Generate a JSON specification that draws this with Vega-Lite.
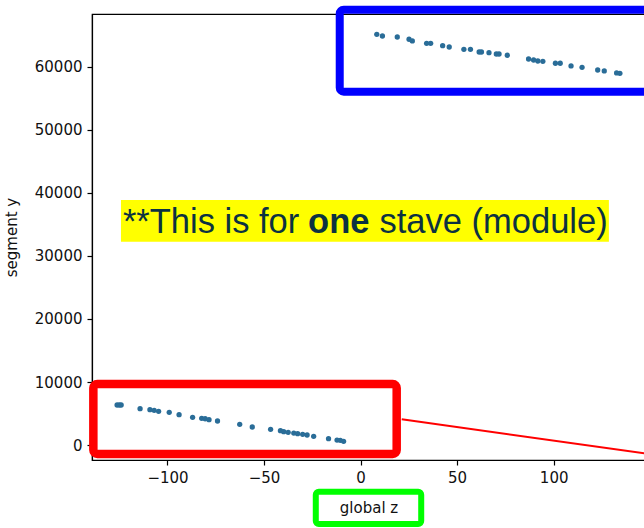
{
  "$schema": "https://vega.github.io/schema/vega-lite/v6.json",
  "width": 553,
  "height": 446,
  "autosize": {"type": "none"},
  "padding": {"left": 92, "top": 14, "right": 0, "bottom": 68},
  "background": "white",
  "config": {
    "view": {"stroke": "black", "strokeWidth": 1.2},
    "axis": {
      "grid": false,
      "labelFont": "DejaVu Sans",
      "labelFontSize": 15,
      "labelColor": "#111111",
      "titleFont": "DejaVu Sans",
      "titleFontSize": 15,
      "titleFontWeight": "normal",
      "titleColor": "#111111",
      "tickColor": "black",
      "tickSize": 5,
      "tickWidth": 1.2,
      "domainColor": "black",
      "domainWidth": 1.2
    }
  },
  "datasets": {
    "points": [
      {"z": 8.4, "y": 65190}, {"z": 11.3, "y": 64920}, {"z": 19.0, "y": 64760}, {"z": 25.1, "y": 64400},
      {"z": 26.8, "y": 64130}, {"z": 34.2, "y": 63760}, {"z": 36.3, "y": 63760}, {"z": 42.5, "y": 63380},
      {"z": 45.9, "y": 63170}, {"z": 53.5, "y": 62810}, {"z": 56.9, "y": 62810}, {"z": 61.4, "y": 62380},
      {"z": 62.6, "y": 62380}, {"z": 66.5, "y": 62270}, {"z": 70.3, "y": 62060}, {"z": 71.7, "y": 62060},
      {"z": 76.0, "y": 61860}, {"z": 87.0, "y": 61270}, {"z": 89.6, "y": 61110}, {"z": 91.8, "y": 60950},
      {"z": 94.4, "y": 60900}, {"z": 100.9, "y": 60590}, {"z": 103.4, "y": 60590}, {"z": 109.0, "y": 60160},
      {"z": 114.7, "y": 59950}, {"z": 122.8, "y": 59520}, {"z": 126.2, "y": 59370}, {"z": 132.6, "y": 59050},
      {"z": 134.3, "y": 59000},
      {"z": -126.1, "y": 6350}, {"z": -124.9, "y": 6350}, {"z": -124.0, "y": 6350}, {"z": -114.2, "y": 5760},
      {"z": -109.1, "y": 5600}, {"z": -106.9, "y": 5510}, {"z": -104.6, "y": 5350}, {"z": -99.1, "y": 5190},
      {"z": -94.0, "y": 4810}, {"z": -87.0, "y": 4400}, {"z": -82.3, "y": 4240}, {"z": -80.5, "y": 4170},
      {"z": -78.5, "y": 4020}, {"z": -74.1, "y": 3810}, {"z": -62.6, "y": 3290}, {"z": -56.1, "y": 2860},
      {"z": -46.6, "y": 2490}, {"z": -41.5, "y": 2270}, {"z": -39.8, "y": 2110}, {"z": -37.5, "y": 2020},
      {"z": -34.6, "y": 1900}, {"z": -32.6, "y": 1790}, {"z": -30.0, "y": 1700}, {"z": -27.7, "y": 1590},
      {"z": -24.3, "y": 1380}, {"z": -16.6, "y": 1000}, {"z": -12.2, "y": 790}, {"z": -10.5, "y": 750},
      {"z": -8.8, "y": 590}
    ]
  },
  "encoding": {
    "x": {
      "field": "z", "type": "quantitative", "title": "global z",
      "scale": {"domain": [-139.1, 147.3], "nice": false, "zero": false},
      "axis": {"values": [-100, -50, 0, 50, 100], "labelPadding": 5, "titlePadding": 15}
    },
    "y": {
      "field": "y", "type": "quantitative", "title": "segment y",
      "scale": {"domain": [-2380, 68410], "nice": false, "zero": false},
      "axis": {"values": [0, 10000, 20000, 30000, 40000, 50000, 60000], "format": "d", "labelPadding": 5, "titlePadding": 15}
    }
  },
  "layer": [
    {
      "data": {"name": "points"},
      "mark": {"type": "circle", "size": 28, "color": "#2a6d98", "opacity": 1}
    },
    {
      "data": {"values": [{"z": -124.1, "z2": 128.6, "y": 38890, "y2": 32270}]},
      "mark": {"type": "rect", "color": "#ffff00"},
      "encoding": {"x2": {"field": "z2"}, "y2": {"field": "y2"}}
    },
    {
      "data": {"values": [{"z": -123.1, "y": 33600, "label": "**This is for"}, {"z": 9.8, "y": 33600, "label": "stave (module)"}]},
      "mark": {"type": "text", "align": "left", "baseline": "alphabetic", "font": "Liberation Sans", "fontSize": 34.5, "color": "#0c3241"},
      "encoding": {"text": {"field": "label"}}
    },
    {
      "data": {"values": [{"z": -27.2, "y": 33600, "label": "one"}]},
      "mark": {"type": "text", "align": "left", "baseline": "alphabetic", "font": "Liberation Sans", "fontSize": 34.5, "fontWeight": "bold", "color": "#0c3241"},
      "encoding": {"text": {"field": "label"}}
    },
    {
      "data": {"values": [{"z": 21.3, "y": 4080}, {"z": 155.0, "y": -1670}]},
      "mark": {"type": "line", "color": "#ff0000", "strokeWidth": 2, "clip": false},
      "encoding": {}
    },
    {
      "data": {"values": [{"z": -138.4, "z2": 18.7, "y": 9680, "y2": -1430}]},
      "mark": {"type": "rect", "fill": null, "fillOpacity": 0, "stroke": "#ff0000", "strokeWidth": 8.5, "cornerRadius": 4},
      "encoding": {"x2": {"field": "z2"}, "y2": {"field": "y2"}}
    },
    {
      "data": {"values": [{"z": -10.8, "z2": 165, "y": 69080, "y2": 56080}]},
      "mark": {"type": "rect", "fill": null, "fillOpacity": 0, "stroke": "#0000ff", "strokeWidth": 8, "cornerRadius": 4},
      "encoding": {"x2": {"field": "z2"}, "y2": {"field": "y2"}}
    },
    {
      "data": {"values": [{"z": -23.2, "z2": 31.4, "y": -7430, "y2": -12540}]},
      "mark": {"type": "rect", "fill": null, "fillOpacity": 0, "stroke": "#00ff00", "strokeWidth": 6, "cornerRadius": 3},
      "encoding": {"x2": {"field": "z2"}, "y2": {"field": "y2"}}
    }
  ]
}
